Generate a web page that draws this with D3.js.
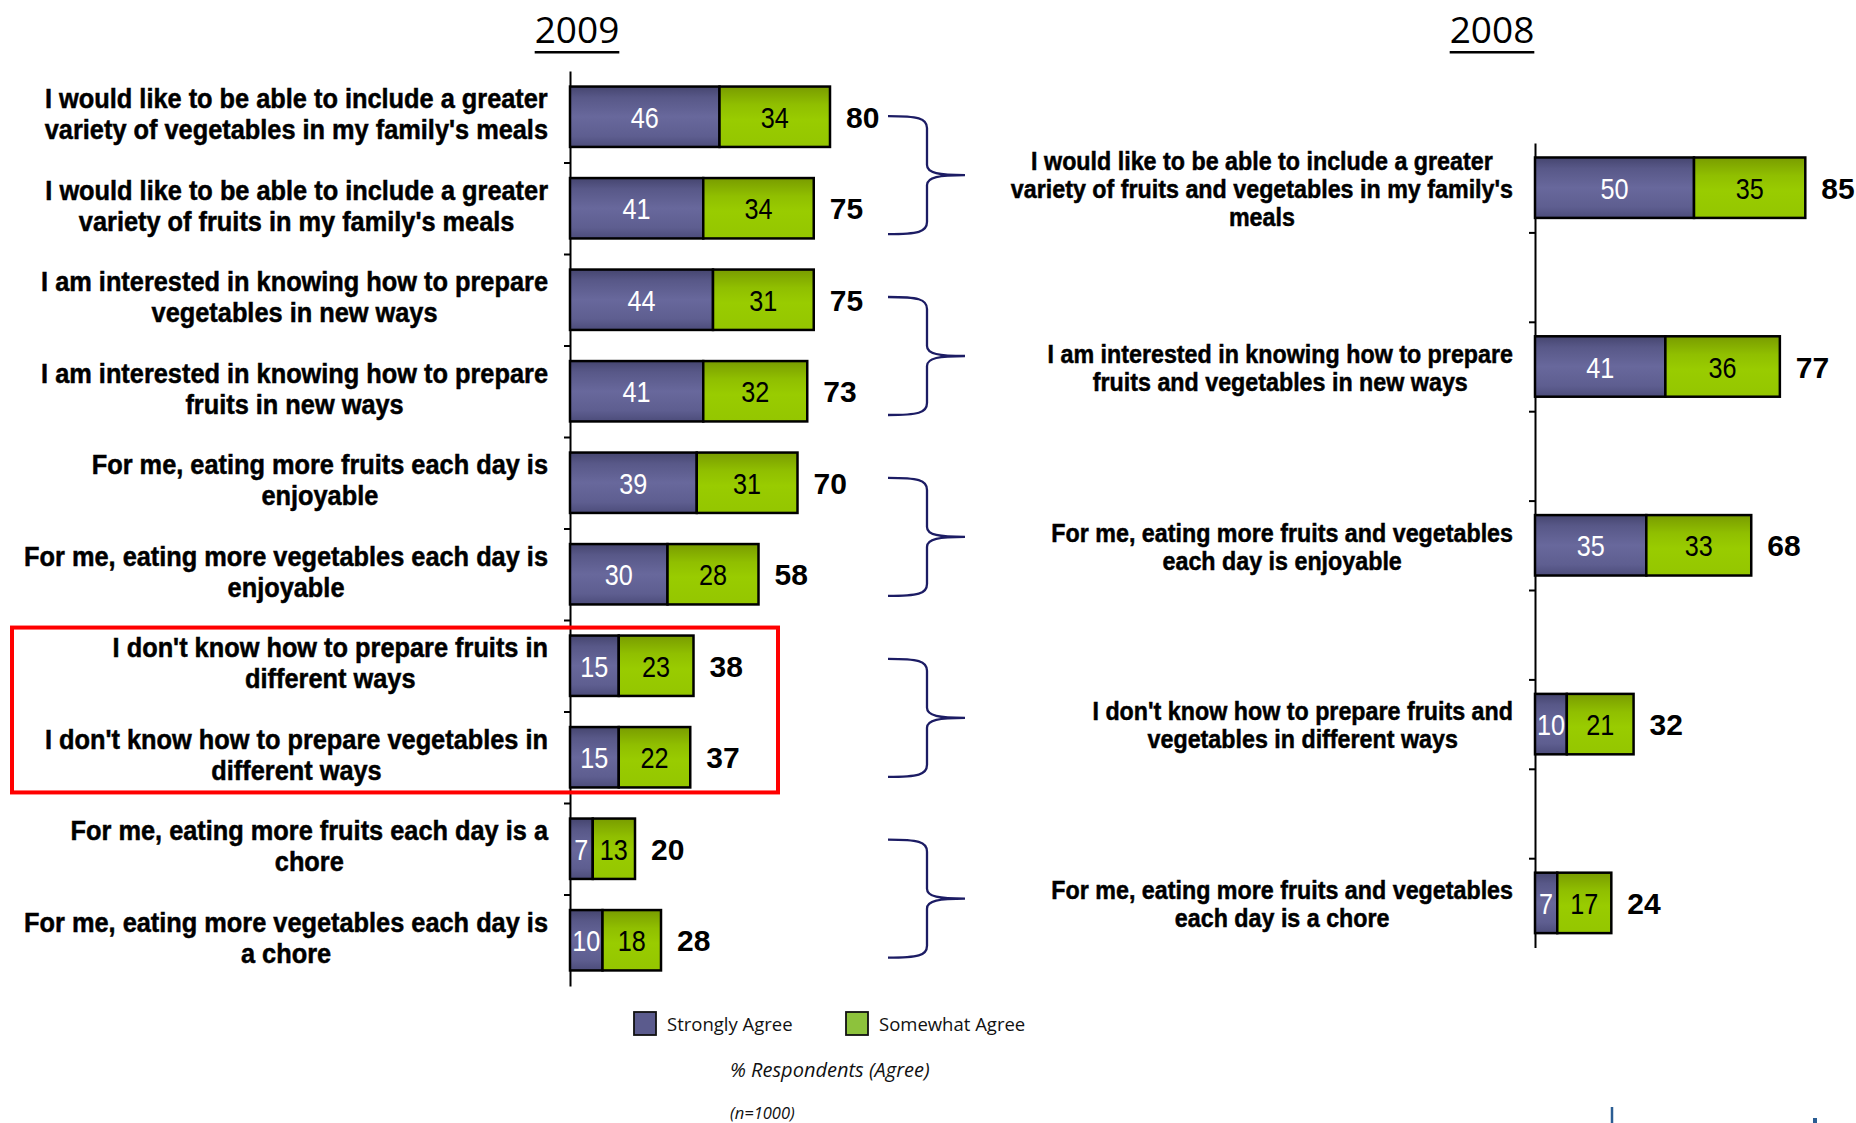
<!DOCTYPE html>
<html><head><meta charset="utf-8">
<script src="https://cdn.jsdelivr.net/npm/d3@7"></script>
<style>body{margin:0;background:#fff}svg{display:block}</style>
</head><body>
<svg id="c" width="1856" height="1123"></svg>
<script>
// ---------- DATA ----------
const title2009 = "2009";
const title2008 = "2008";
const labels2009 = [
  ["I would like to be able to include a greater", "variety of vegetables in my family's meals"],
  ["I would like to be able to include a greater", "variety of fruits in my family's meals"],
  ["I am interested in knowing how to prepare", "vegetables in new ways"],
  ["I am interested in knowing how to prepare", "fruits in new ways"],
  ["For me, eating more fruits each day is", "enjoyable"],
  ["For me, eating more vegetables each day is", "enjoyable"],
  ["I don't know how to prepare fruits in", "different ways"],
  ["I don't know how to prepare vegetables in", "different ways"],
  ["For me, eating more fruits each day is a", "chore"],
  ["For me, eating more vegetables each day is", "a chore"]
];
const strong2009   = [46, 41, 44, 41, 39, 30, 15, 15, 7, 10];
const somewhat2009 = [34, 34, 31, 32, 31, 28, 23, 22, 13, 18];
const total2009    = [80, 75, 75, 73, 70, 58, 38, 37, 20, 28];

const labels2008 = [
  ["I would like to be able to include a greater", "variety of fruits and vegetables in my family's", "meals"],
  ["I am interested in knowing how to prepare", "fruits and vegetables in new ways"],
  ["For me, eating more fruits and vegetables", "each day is enjoyable"],
  ["I don't know how to prepare fruits and", "vegetables in different ways"],
  ["For me, eating more fruits and vegetables", "each day is a chore"]
];
const strong2008   = [50, 41, 35, 10, 7];
const somewhat2008 = [35, 36, 33, 21, 17];
const total2008    = [85, 77, 68, 32, 24];

// which 2009 rows each 2008 row corresponds to (braces)
const braceGroups = [[0, 1], [2, 3], [4, 5], [6, 7], [8, 9]];
// highlighted 2009 rows (red box)
const highlightRows = [6, 7];

const seriesNames = ["Strongly Agree", "Somewhat Agree"];
const axisNote = "% Respondents (Agree)";
const sampleNote = "(n=1000)";

// ---------- DRAW ----------
const svg = d3.select("#c");
const defs = svg.append("defs");
const gP = defs.append("linearGradient").attr("id", "gp").attr("x1", 0).attr("x2", 0).attr("y1", 0).attr("y2", 1);
[[0, "#45456f"], [0.18, "#585888"], [0.5, "#68689c"], [0.82, "#5e5e90"], [1, "#4c4c7a"]]
  .forEach(s => gP.append("stop").attr("offset", s[0]).attr("stop-color", s[1]));
const gG = defs.append("linearGradient").attr("id", "gg").attr("x1", 0).attr("x2", 0).attr("y1", 0).attr("y2", 1);
[[0, "#799c00"], [0.3, "#90bf00"], [0.55, "#99cc00"], [1, "#94c600"]]
  .forEach(s => gG.append("stop").attr("offset", s[0]).attr("stop-color", s[1]));

const LABEL_FONT = "'Liberation Sans', Arial, sans-serif";
const SOFT_FONT = "'Open Sans', 'Noto Sans', sans-serif";

function squeezeText(t, f) {
  const w = t.node().getComputedTextLength() * f;
  t.attr("textLength", w).attr("lengthAdjust", "spacingAndGlyphs");
  return w;
}

function drawPanel(cfg) {
  const g = svg.append("g");
  const n = cfg.slots.length;
  const y = d3.scaleBand().domain(cfg.slots).range(cfg.yRange)
    .paddingInner(cfg.padInner).paddingOuter(cfg.padInner / 2);
  const x = d3.scaleLinear().domain([0, 100]).range(cfg.xRange);

  // axis: ticks at band boundaries
  const yb = d3.scaleLinear().domain([0, n]).range(cfg.yRange);
  const ax = g.append("g").attr("transform", `translate(${cfg.xRange[0]},0)`)
    .call(d3.axisLeft(yb).tickValues(d3.range(1, n)).tickSize(6).tickSizeOuter(0).tickFormat(""));
  ax.selectAll("path,line").attr("stroke", "#000").attr("stroke-width", 2);

  const rows = cfg.labels.map((lab, i) => ({
    key: cfg.keys[i], lab, s: cfg.strong[i], w: cfg.somewhat[i], t: cfg.total[i]
  }));
  const bw = y.bandwidth();

  rows.forEach(r => {
    const y0 = y(r.key), cy = y0 + bw / 2;
    const segs = [
      { a: 0, b: r.s, fill: "url(#gp)", txt: r.s, col: "#fff" },
      { a: r.s, b: r.s + r.w, fill: "url(#gg)", txt: r.w, col: "#000" }
    ];
    segs.forEach(sg => {
      g.append("rect").attr("x", x(sg.a)).attr("y", y0)
        .attr("width", x(sg.b) - x(sg.a)).attr("height", bw)
        .attr("fill", sg.fill).attr("stroke", "#000").attr("stroke-width", 2.5);
    });
    segs.forEach(sg => {
      const t = g.append("text").attr("y", cy + 11)
        .attr("fill", sg.col)
        .style("font-family", LABEL_FONT).style("font-size", "30px")
        .text(sg.txt);
      const w = squeezeText(t, 0.84);
      t.attr("x", (x(sg.a) + x(sg.b)) / 2 - w / 2);
    });
    g.append("text").attr("x", x(r.s + r.w) + 16).attr("y", cy + 11)
      .style("font-family", LABEL_FONT).style("font-size", "30px").style("font-weight", "bold")
      .attr("fill", "#000").text(r.t);

    // category label, centered block, right edge at cfg.labelRight
    const lines = r.lab;
    const texts = [];
    const nl = lines.length;
    lines.forEach((ln, k) => {
      const ty = cy + cfg.labelDy + (k - (nl - 1) / 2) * cfg.lineH + cfg.fs * 0.36;
      const t = g.append("text").attr("y", ty)
        .style("font-family", LABEL_FONT).style("font-size", cfg.fs + "px")
        .style("font-weight", "bold").attr("fill", "#000")
        .attr("stroke", "#000").attr("stroke-width", 0.5).text(ln);
      const w = squeezeText(t, cfg.squeeze);
      texts.push({ t, w });
    });
    const maxW = d3.max(texts, d => d.w);
    const cx = cfg.labelRight - maxW / 2;
    texts.forEach(d => d.t.attr("x", cx - d.w / 2));
  });

  // title
  const tt = g.append("text").attr("x", cfg.titleX).attr("y", 43).attr("text-anchor", "middle")
    .style("font-family", SOFT_FONT).style("font-size", "37px").attr("fill", "#000").text(cfg.title);
  const tw = tt.node().getComputedTextLength();
  g.append("rect").attr("x", cfg.titleX - tw / 2).attr("y", 51).attr("width", tw).attr("height", 2.5).attr("fill", "#000");

  return { y, x, bw };
}

// 2009 panel
const keys2009 = labels2009.map((d, i) => "r" + i);
const p09 = drawPanel({
  labels: labels2009, strong: strong2009, somewhat: somewhat2009, total: total2009,
  keys: keys2009, slots: keys2009,
  yRange: [71, 986], xRange: [570, 895], padInner: 0.34,
  fs: 28, lineH: 31, labelDy: -3, squeeze: 0.905, labelRight: 548,
  title: title2009, titleX: 577
});

// 2008 panel: categories separated by empty slots
const keys2008 = labels2008.map((d, i) => "c" + i);
const slots2008 = [];
keys2008.forEach((k, i) => { slots2008.push(k); if (i < keys2008.length - 1) slots2008.push("gap" + i); });
const p08 = drawPanel({
  labels: labels2008, strong: strong2008, somewhat: somewhat2008, total: total2008,
  keys: keys2008, slots: slots2008,
  yRange: [143, 947.6], xRange: [1535, 1853], padInner: 0.324,
  fs: 26, lineH: 28, labelDy: 1, squeeze: 0.895, labelRight: 1513,
  title: title2008, titleX: 1492
});

// braces linking 2009 pairs to 2008 rows
const bx0 = 888, bx1 = 927, bx2 = 965, half = 59;
braceGroups.forEach((grp, i) => {
  const m09 = (p09.y(keys2009[grp[0]]) + p09.y(keys2009[grp[1]]) + p09.bw) / 2;
  const m08 = p08.y(keys2008[i]) + p08.bw / 2;
  const c = (m09 + m08) / 2, t = c - half, b = c + half;
  const p = d3.path();
  p.moveTo(bx0, t);
  p.bezierCurveTo(bx0 + 30, t, bx1, t + 2, bx1, t + 12);
  p.lineTo(bx1, c - 10);
  p.bezierCurveTo(bx1, c - 2, bx1 + 12, c, bx2, c);
  p.bezierCurveTo(bx1 + 12, c, bx1, c + 2, bx1, c + 10);
  p.lineTo(bx1, b - 12);
  p.bezierCurveTo(bx1, b - 2, bx0 + 30, b, bx0, b);
  svg.append("path").attr("d", p.toString()).attr("fill", "none")
    .attr("stroke", "#1c1c64").attr("stroke-width", 2.3);
});

// red highlight box
{
  const top = p09.y(keys2009[highlightRows[0]]) - 8;
  const bot = p09.y(keys2009[highlightRows[highlightRows.length - 1]]) + p09.bw + 5;
  svg.append("rect").attr("x", 12).attr("y", top).attr("width", 766).attr("height", bot - top)
    .attr("fill", "none").attr("stroke", "#ff0000").attr("stroke-width", 4);
}

// legend
const legColors = ["#5b5b8d", "#8dc23c"];
const legX = [634, 846];
seriesNames.forEach((nm, i) => {
  svg.append("rect").attr("x", legX[i]).attr("y", 1012).attr("width", 22).attr("height", 23)
    .attr("fill", legColors[i]).attr("stroke", "#111").attr("stroke-width", 1.8);
  svg.append("text").attr("x", legX[i] + 33).attr("y", 1031)
    .style("font-family", SOFT_FONT).style("font-size", "18.5px").attr("fill", "#111").text(nm);
});
svg.append("text").attr("x", 730).attr("y", 1077)
  .style("font-family", SOFT_FONT).style("font-size", "20px").style("font-style", "italic")
  .attr("fill", "#111").text(axisNote);
svg.append("text").attr("x", 730).attr("y", 1119)
  .style("font-family", SOFT_FONT).style("font-size", "16.5px").style("font-style", "italic")
  .attr("fill", "#111").text(sampleNote);

// cut-off logo fragments at bottom right
svg.append("line").attr("x1", 1612).attr("x2", 1612).attr("y1", 1107).attr("y2", 1123)
  .attr("stroke", "#2b5d93").attr("stroke-width", 2.5);
svg.append("rect").attr("x", 1813).attr("y", 1118).attr("width", 4).attr("height", 5).attr("fill", "#2b5d93");
</script>
</body></html>
